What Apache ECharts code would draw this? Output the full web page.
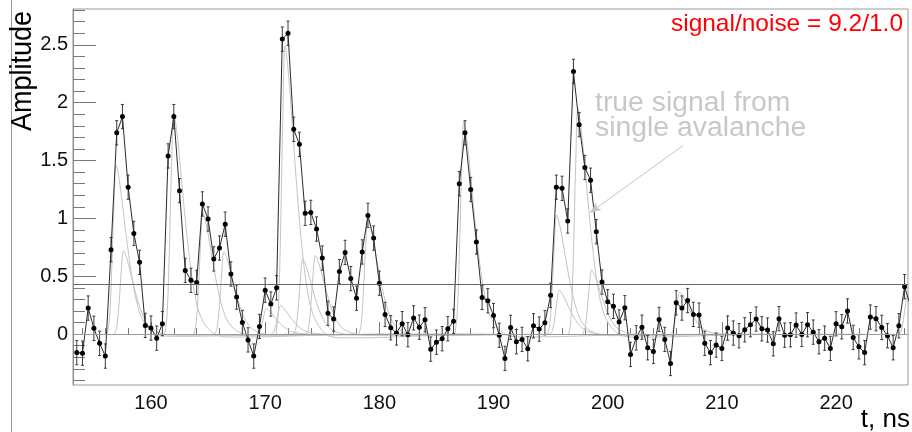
<!DOCTYPE html>
<html><head><meta charset="utf-8">
<script src="https://cdn.jsdelivr.net/npm/echarts@6/dist/echarts.min.js"></script>
<style>html,body{margin:0;padding:0;background:#fff}#c{width:912px;height:432px}</style>
</head><body><div id="c"></div>
<script>
// ---- data ----
const tStart = 153.5;   // first bin time, ns
const tStep = 0.5;      // bin width, ns
const amplitudes = [
  -0.16, -0.165, 0.225, 0.05, -0.08, -0.19, 0.73, 1.74, 1.88, 1.27, 0.87, 0.62, 0.075,   // 153.5 - 159.5
  0.052, -0.035, 0.09, 1.54, 1.88, 1.24, 0.55, 0.465, 0.447, 1.125, 0.995, 0.65, 0.744, 0.95, 0.52, 0.32, 0.10, -0.05, -0.19, 0.066, // 160 - 169.5
  0.38, 0.26, 0.40, 2.55, 2.60, 1.77, 1.64, 1.044, 1.052, 0.908, 0.657, 0.18, 0.13, 0.54, 0.706, 0.48, 0.31, 0.71, 1.026, 0.83, // 170 - 179.5
  0.44, 0.17, 0.055, 0.01, 0.09, -0.005, 0.14, 0.06, 0.124, -0.13, -0.07, -0.04, 0.046, 0.11, 1.30, 1.74, 1.25, 0.796, 0.317, 0.288, // 180 - 189.5
  0.16, -0.01, -0.21, 0.058, -0.066, -0.046, -0.127, 0.072, 0.043, 0.098, 0.335, 1.27, 1.26, 0.978, 2.27, 1.81, 1.44, 1.33, 0.885, 0.45, // 190 - 199.5
  0.28, 0.24, 0.104, 0.228, -0.176, -0.032, 0.06, -0.118, -0.15, 0.127, -0.046, -0.254, 0.27, 0.225, 0.29, 0.17, 0.164, -0.08, -0.16, -0.095, // 200 - 209.5
  -0.124, 0.052, 0.009, -0.014, 0.037, 0.081, 0.13, 0.046, 0.035, -0.084, 0.133, -0.009, -0.006, 0.078, -0.003, 0.081, 0.017, -0.066, -0.035, -0.124, // 210 - 219.5
  0.089, 0.063, 0.2, -0.029, -0.11, -0.16, 0.147, 0.133, 0.058, -0.014, -0.118, 0.072, 0.41, 0.25 // 220 - 226.5
];
const errHalf = 0.105;

// single-avalanche pulses: peak time (ns) and peak amplitude
const pulseTimes = [156.95, 157.6, 162.0, 164.55, 166.4, 170.1, 171.35, 171.75, 173.3, 174.4, 179.0, 187.4, 195.53, 195.76, 197.4, 198.6, 206.3, 226.3];
const pulseAmps  = [1.46,   0.72,  1.91,  1.05,   0.71,  0.22,  0.245,  2.49,   0.65,  0.68,  1.0,   1.84,  1.03,   0.38,   1.95,  0.555, 0.36,  0.35];
// pulse shape (time after peak, fraction of peak)
const pulseDt    = [-0.8, -0.6, -0.4, -0.2, 0, 0.3, 0.6, 1.0, 1.4, 1.8, 2.2, 2.7, 3.2, 3.8, 5, 8, 12, 16];
const pulseShape = [0, 0.08, 0.36, 0.76, 1, 0.9, 0.74, 0.52, 0.33, 0.19, 0.1, 0.045, 0.015, -0.006, -0.013, -0.012, -0.006, 0];

const threshold = 0.43;
const xMajorTicks = [160, 170, 180, 190, 200, 210, 220];
const xMinorTicks = [154, 156, 158, 162, 164, 166, 168, 172, 174, 176, 178, 182, 184, 186, 188, 192, 194, 196, 198, 202, 204, 206, 208, 212, 214, 216, 218, 222, 224, 226];
const yMajorTicks = [0, 0.5, 1, 1.5, 2, 2.5];
const yMinorTicks = [-0.4, -0.3, -0.2, -0.1, 0.1, 0.2, 0.3, 0.4, 0.6, 0.7, 0.8, 0.9, 1.1, 1.2, 1.3, 1.4, 1.6, 1.7, 1.8, 1.9, 2.1, 2.2, 2.3, 2.4, 2.6, 2.7, 2.8];
const arrowFrom = [206.6, 1.63];
const arrowTo = [198.45, 1.05];
const xRange = [153.17, 226.3];
const yRange = [-0.44, 2.81];

// ---- chart ----
const FONT = 'Liberation Sans, Arial, Helvetica, sans-serif';
const points = amplitudes.map((v, i) => [tStart + i * tStep, v]);
const chart = echarts.init(document.getElementById('c'), null, {renderer: 'canvas'});

const pulseSeries = pulseTimes.map((tp, j) => ({
  type: 'line', xAxisIndex: 0, yAxisIndex: 0, smooth: 0.35, showSymbol: false, silent: true, z: 1,
  lineStyle: {color: '#c4c4c4', width: 1}, itemStyle: {color: '#c4c4c4'},
  data: pulseDt.map((d, k) => [tp + d, pulseAmps[j] * pulseShape[k]])
}));

const axisCommon = {type: 'value', splitLine: {show: false}};
chart.setOption({
  animation: false,
  backgroundColor: '#fff',
  grid: {left: 73, right: 4, top: 9, bottom: 47, show: true, borderColor: '#9a9a9a', borderWidth: 1},
  xAxis: [
    Object.assign({}, axisCommon, {min: xRange[0], max: xRange[1], position: 'bottom',
      axisLine: {show: true, lineStyle: {color: '#8a8a8a'}},
      axisTick: {show: true, inside: true, length: 12, customValues: xMajorTicks, lineStyle: {color: '#777'}},
      axisLabel: {show: true, customValues: xMajorTicks, fontSize: 20, color: '#111', fontFamily: FONT, margin: 8}}),
    Object.assign({}, axisCommon, {min: xRange[0], max: xRange[1], position: 'bottom', offset: 0,
      axisLine: {show: false},
      axisTick: {show: true, inside: true, length: 6, customValues: xMinorTicks, lineStyle: {color: '#777'}},
      axisLabel: {show: false}})
  ],
  yAxis: [
    Object.assign({}, axisCommon, {min: yRange[0], max: yRange[1], position: 'left',
      axisLine: {show: true, lineStyle: {color: '#8a8a8a'}},
      axisTick: {show: true, inside: true, length: 23, customValues: yMajorTicks, lineStyle: {color: '#777'}},
      axisLabel: {show: true, customValues: yMajorTicks, fontSize: 20, color: '#111', fontFamily: FONT, margin: 5}}),
    Object.assign({}, axisCommon, {min: yRange[0], max: yRange[1], position: 'left', offset: 0,
      axisLine: {show: false},
      axisTick: {show: true, inside: true, length: 12, customValues: yMinorTicks, lineStyle: {color: '#777'}},
      axisLabel: {show: false}})
  ],
  graphic: [
    {type: 'line', shape: {x1: 11.5, y1: 0, x2: 11.5, y2: 432}, style: {stroke: '#999', lineWidth: 1}, silent: true},
    {type: 'text', x: 23, y: 71, rotation: Math.PI / 2, scaleY: 1.1,
      style: {text: 'Amplitude', font: '27px ' + FONT, fill: '#000', textAlign: 'center', textVerticalAlign: 'middle'}},
    {type: 'text', x: 910, y: 420,
      style: {text: 't, ns', font: '26px ' + FONT, fill: '#000', textAlign: 'right', textVerticalAlign: 'middle'}},
    {type: 'text', x: 903, y: 24, scaleX: 1.02,
      style: {text: 'signal/noise = 9.2/1.0', font: '24px ' + FONT, fill: '#ff0000', textAlign: 'right', textVerticalAlign: 'middle'}},
    {type: 'text', x: 595, y: 104, scaleX: 1.05,
      style: {text: 'true signal from', font: '27px ' + FONT, fill: '#c8c8c8', textAlign: 'left', textVerticalAlign: 'middle'}},
    {type: 'text', x: 595, y: 129, scaleX: 1.05,
      style: {text: 'single avalanche', font: '27px ' + FONT, fill: '#c8c8c8', textAlign: 'left', textVerticalAlign: 'middle'}}
  ],
  series: pulseSeries.concat([
    {
      type: 'line', xAxisIndex: 0, yAxisIndex: 0, data: [], silent: true, z: 2,
      markLine: {silent: true, symbol: 'none', label: {show: false}, animation: false,
        data: [
          {yAxis: 0, lineStyle: {color: '#9a9a9a', width: 1, type: 'solid'}},
          {yAxis: threshold, lineStyle: {color: '#666', width: 1, type: 'solid'}},
          [{coord: arrowFrom, symbol: 'none'}, {coord: arrowTo, symbol: 'arrow', symbolSize: [7, 11], lineStyle: {color: '#c4c4c4', width: 1, type: 'solid'}}]
        ]}
    },
    {
      type: 'custom', xAxisIndex: 0, yAxisIndex: 0, z: 3, silent: true, clip: true,
      data: points,
      renderItem: function (params, api) {
        const x = api.value(0), y = api.value(1);
        const lo = api.coord([x, y - errHalf]);
        const hi = api.coord([x, y + errHalf]);
        const c = 1.5;
        const st = {stroke: '#3a3a3a', lineWidth: 1};
        return {type: 'group', children: [
          {type: 'line', shape: {x1: lo[0], y1: lo[1], x2: hi[0], y2: hi[1]}, style: st},
          {type: 'line', shape: {x1: lo[0] - c, y1: lo[1], x2: lo[0] + c, y2: lo[1]}, style: st},
          {type: 'line', shape: {x1: hi[0] - c, y1: hi[1], x2: hi[0] + c, y2: hi[1]}, style: st}
        ]};
      }
    },
    {
      type: 'line', xAxisIndex: 0, yAxisIndex: 0, z: 4, silent: true, clip: true,
      data: points, symbol: 'circle', symbolSize: 5, showSymbol: true,
      lineStyle: {color: '#2a2a2a', width: 1}, itemStyle: {color: '#000'}
    }
  ])
});
</script></body></html>
